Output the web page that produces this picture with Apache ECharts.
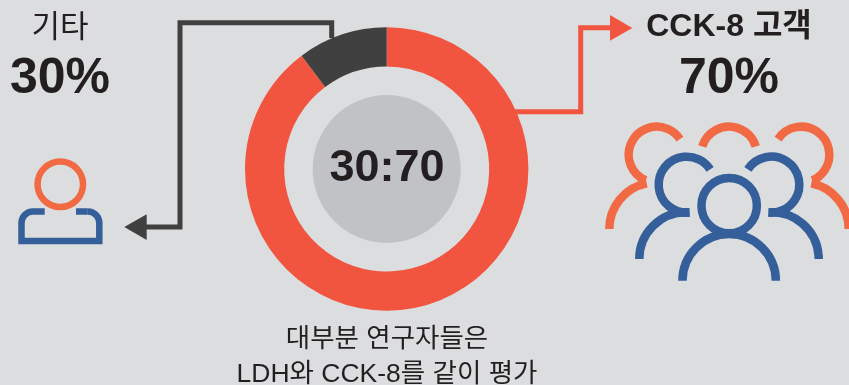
<!DOCTYPE html>
<html><head><meta charset="utf-8">
<style>html,body{margin:0;padding:0;background:#dcdddf}#c{width:849px;height:385px}</style>
<script src="https://cdn.jsdelivr.net/npm/echarts@6/dist/echarts.min.js"></script></head>
<body><div id="c"></div>
<script>
const categories = ['CCK-8 고객', '기타'];
const values = [89.75, 10.25];
const centerLabel = '30:70';
const captionLines = ['대부분 연구자들은', 'LDH와 CCK-8를 같이 평가'];
const leftTitle = '기타', leftValue = '30%';
const rightTitle = 'CCK-8 고객', rightValue = '70%';

const RED = '#f2553f', DARK = '#404040', ORANGE = '#f26a43', BLUE = '#355f9a', INK = '#231f20';
const FONT = '"Liberation Sans","Noto Sans CJK KR",sans-serif';
const D = Math.PI / 180;

function text(x, y, t, size, weight) {
  return {type:'text', x, y, z:10, silent:true, style:{text:t, x:0, y:0, align:'center', verticalAlign:'middle', fontFamily:FONT, fontSize:size, fontWeight:weight||'normal', fill:INK}};
}
function line(points, stroke, w) {
  return {type:'polyline', silent:true, shape:{points}, style:{stroke, lineWidth:w, fill:null, lineJoin:'miter'}};
}
function tri(points, fill) { return {type:'polygon', silent:true, shape:{points}, style:{fill}}; }
// angles in degrees, clockwise from +x on screen
function arc(cx, cy, r, a0, a1, stroke, w) {
  return {type:'arc', silent:true, shape:{cx, cy, r, startAngle:a0*D, endAngle:a1*D, clockwise:true}, style:{stroke, lineWidth:w, fill:null, lineCap:'butt'}};
}
const hx = v => 600 + v/3, hy = v => 120 + v/3;
const W = 8.5;

const graphics = [
  text(60, 28, leftTitle, 31),
  text(60, 79, leftValue, 50, 'bold'),
  text(729, 27, rightTitle, 32, 'bold'),
  text(729, 79, rightValue, 50, 'bold'),
  text(387, 340, captionLines[0], 26.5),
  text(387, 375, captionLines[1], 26.5),
  // connectors
  line([[331.7,38],[331.7,22.7],[180,22.7],[180,227],[146,227]], DARK, 5),
  tri([[124.3,227],[146.7,214.3],[146.7,240]], DARK),
  line([[515,111.7],[580.7,111.7],[580.7,27.7],[611,27.7]], RED, 5),
  tri([[632.3,28],[610,15],[610,40.7]], RED),
  // single person icon
  {type:'circle', silent:true, shape:{cx:60.3, cy:184.3, r:22.75}, style:{stroke:ORANGE, lineWidth:6.5, fill:null}},
  line([[44.7,211.5],[33,211.5]], BLUE, 6.5),
  arc(33, 223, 11.5, 180, 270, BLUE, 6.5),
  line([[21.5,222.5],[21.5,241],[99.3,241],[99.3,222.5]], BLUE, 6.5),
  arc(87.8, 223, 11.5, 270, 360, BLUE, 6.5),
  line([[87.8,211.5],[76,211.5]], BLUE, 6.5),
  // group icon: back row
  arc(hx(170), hy(104), 28, 113, 326, ORANGE, W),
  arc(hx(168), hy(327), 46.7, 180, 258.5, ORANGE, W),
  arc(hx(387), hy(104), 28, 197, 343, ORANGE, W),
  arc(hx(604), hy(104), 28, 214, 427, ORANGE, W),
  arc(hx(606), hy(327), 46.7, 281.5, 360, ORANGE, W),
  // group icon: middle row
  arc(hx(260), hy(194), 28, 84, 327, BLUE, W),
  arc(hx(258), hy(417), 46.7, 180, 274, BLUE, W),
  arc(hx(514), hy(194), 28, 213, 456, BLUE, W),
  arc(hx(516), hy(417), 46.7, 266, 360, BLUE, W),
  // group icon: front person
  {type:'circle', silent:true, shape:{cx:hx(387.5), cy:hy(257), r:27.7}, style:{stroke:BLUE, lineWidth:W, fill:null}},
  arc(hx(387.5), hy(482), 46.7, 180, 360, BLUE, W),
  text(387, 169, centerLabel, 45, 'bold')
];

const chart = echarts.init(document.getElementById('c'));
chart.setOption({
  backgroundColor:'#dcdddf',
  animation:false,
  series:[
    {type:'pie', silent:true, center:[386.7,169], radius:[0,74], label:{show:false}, labelLine:{show:false}, itemStyle:{color:'#c1c2c5'}, data:[{name:'centre', value:1}]},
    {type:'pie', silent:true, center:[386.7,169], radius:[102.5,141.7], startAngle:90, clockwise:true, label:{show:false}, labelLine:{show:false}, data:categories.map((name,i)=>({name, value:values[i], itemStyle:{color:i===0?RED:DARK}}))}
  ],
  graphic:{elements:graphics}
});
</script></body></html>
